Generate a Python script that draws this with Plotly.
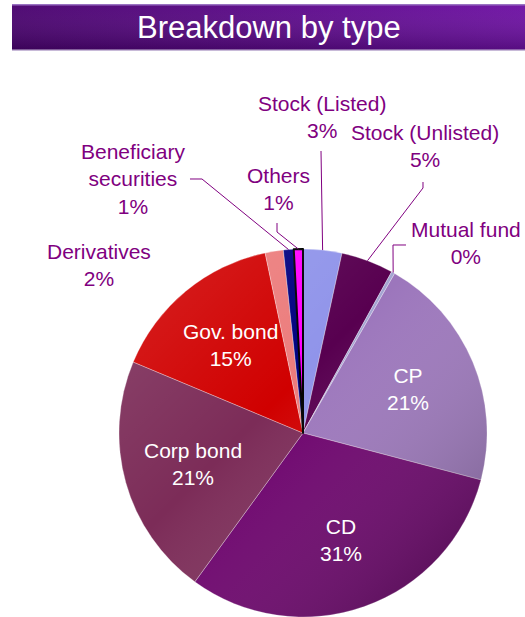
import base64
import math
import plotly.graph_objects as go

W, H = 525, 617

# Portfolio breakdown (share of total, %), clockwise from 12 o'clock
categories = ["Stock (Listed)", "Stock (Unlisted)", "Mutual fund", "CP", "CD",
              "Corp bond", "Gov. bond", "Derivatives", "Beneficiary securities", "Others"]
shares = [3.4, 4.6, 0.3, 20.8, 30.9, 21.3, 15.4, 1.6, 0.9, 0.8]
display_names = ["Stock (Listed)", "Stock (Unlisted)", "Mutual fund", "CP", "CD",
                 "Corp bond", "Gov. bond", "Derivatives", "Beneficiary<br>securities", "Others"]
slice_colors = ["#9094EA", "#580050", "#A4A4D2", "#9C76BC", "#6C006C",
                "#7C2C58", "#D00000", "#EC7C7C", "#000080", "#FF00FF"]
inside_labels = {"CP", "CD", "Corp bond", "Gov. bond"}

TITLE = "Breakdown by type"
LABEL_COLOR = "#800080"
FONT = "Liberation Sans, Arial, sans-serif"

# pie placement (pixels)
DOM_X = (118, 488)
DOM_Y_BOTTOM = 368           # domain height from the bottom edge
CX = (DOM_X[0] + DOM_X[1]) / 2
R = min(DOM_X[1] - DOM_X[0], DOM_Y_BOTTOM) / 2
CY = H - DOM_Y_BOTTOM / 2


def px(x):
    return x / W


def py(y):
    return 1 - y / H


total = sum(shares)
pcts = [round(v / total * 100) for v in shares]
mids = []
acc = 0.0
for v in shares:
    mids.append((acc + v / 2) / total)
    acc += v


def polar(frac, r):
    a = 2 * math.pi * frac
    return CX + r * math.sin(a), CY - r * math.cos(a)


fig = go.Figure(go.Pie(
    labels=categories,
    values=shares,
    sort=False,
    direction="clockwise",
    rotation=0,
    textinfo="none",
    hoverinfo="label+percent",
    marker=dict(colors=slice_colors,
                line=dict(color=["rgba(255,255,255,0.5)"] * 9 + ["#000000"],
                          width=[0.6] * 9 + [2])),
    domain=dict(x=[px(DOM_X[0]), px(DOM_X[1])], y=[0, DOM_Y_BOTTOM / H]),
    showlegend=False,
))

# soft diagonal shading over the disc
shade_svg = (
    "<svg xmlns='http://www.w3.org/2000/svg' width='400' height='400' viewBox='0 0 400 400'>"
    "<defs><linearGradient id='g' x1='0' y1='0' x2='1' y2='1'>"
    "<stop offset='0' stop-color='#ffffff' stop-opacity='0.14'/>"
    "<stop offset='0.42' stop-color='#ffffff' stop-opacity='0'/>"
    "<stop offset='1' stop-color='#000000' stop-opacity='0.38'/>"
    "</linearGradient></defs>"
    "<circle cx='200' cy='200' r='200' fill='url(#g)'/></svg>"
)
# title band
band_w, band_h = 513, 47
band_svg = (
    f"<svg xmlns='http://www.w3.org/2000/svg' width='{band_w}' height='{band_h}' "
    f"viewBox='0 0 {band_w} {band_h}' preserveAspectRatio='none'>"
    "<defs><linearGradient id='h' x1='0' y1='0' x2='1' y2='0'>"
    "<stop offset='0' stop-color='#48006E'/><stop offset='1' stop-color='#6C0EA2'/>"
    "</linearGradient><linearGradient id='v' x1='0' y1='0' x2='0' y2='1'>"
    "<stop offset='0' stop-color='#ffffff' stop-opacity='0.04'/>"
    "<stop offset='1' stop-color='#000000' stop-opacity='0.22'/>"
    "</linearGradient></defs>"
    f"<rect width='{band_w}' height='{band_h}' fill='url(#h)'/>"
    f"<rect width='{band_w}' height='{band_h}' fill='url(#v)'/>"
    f"<rect width='{band_w}' height='1.5' fill='#9A72C2'/>"
    f"<rect y='{band_h - 1.5}' width='{band_w}' height='1.5' fill='#C8BAD8'/>"
    "</svg>"
)


def data_uri(svg):
    return "data:image/svg+xml;base64," + base64.b64encode(svg.encode()).decode()


images = [
    dict(source=data_uri(band_svg), xref="paper", yref="paper",
         x=px(12), y=py(4), sizex=band_w / W, sizey=band_h / H,
         xanchor="left", yanchor="top", sizing="stretch", layer="below"),
    dict(source=data_uri(shade_svg), xref="paper", yref="paper",
         x=px(CX - R), y=py(CY - R), sizex=2 * R / W, sizey=2 * R / H,
         xanchor="left", yanchor="top", sizing="stretch", layer="above"),
]

annotations = [dict(text=TITLE, x=px(268.5), y=py(27), xref="paper", yref="paper",
                    showarrow=False, xanchor="center", yanchor="middle",
                    font=dict(family=FONT, size=31, color="white"))]

# callout placement for the small slices: label centre and leader elbow points
callouts = {
    "Stock (Listed)": ((322, 117), [(321, 151)]),
    "Stock (Unlisted)": ((425, 146), [(423, 182), (423, 188)]),
    "Mutual fund": ((466, 243), [(406, 245), (393, 245)]),
    "Others": ((278, 189), [(277, 223), (277, 232)]),
    "Beneficiary securities": ((133, 179), [(190, 179), (202, 179)]),
    "Derivatives": ((99, 265), []),
}

shapes = []
for name, disp, pct, mid in zip(categories, display_names, pcts, mids):
    text = f"{disp}<br>{pct}%"
    if name in inside_labels:
        x, y = polar(mid, 0.62 * R)
        annotations.append(dict(text=text, x=px(x), y=py(y), xref="paper", yref="paper",
                                showarrow=False, xanchor="center", yanchor="middle",
                                font=dict(family=FONT, size=21, color="white")))
    else:
        (lx, ly), elbow = callouts[name]
        annotations.append(dict(text=text, x=px(lx), y=py(ly), xref="paper", yref="paper",
                                showarrow=False, xanchor="center", yanchor="middle",
                                font=dict(family=FONT, size=21, color=LABEL_COLOR)))
        if elbow:
            pts = elbow + [polar(mid, R)]
            path = "M " + " L ".join(f"{px(a):.5f},{py(b):.5f}" for a, b in pts)
            shapes.append(dict(type="path", path=path, xref="paper", yref="paper",
                               line=dict(color=LABEL_COLOR, width=1)))

fig.update_layout(
    width=W, height=H,
    margin=dict(l=0, r=0, t=0, b=0),
    paper_bgcolor="white",
    plot_bgcolor="white",
    images=images,
    annotations=annotations,
    shapes=shapes,
    font=dict(family=FONT),
)

fig.write_html("out.html")
